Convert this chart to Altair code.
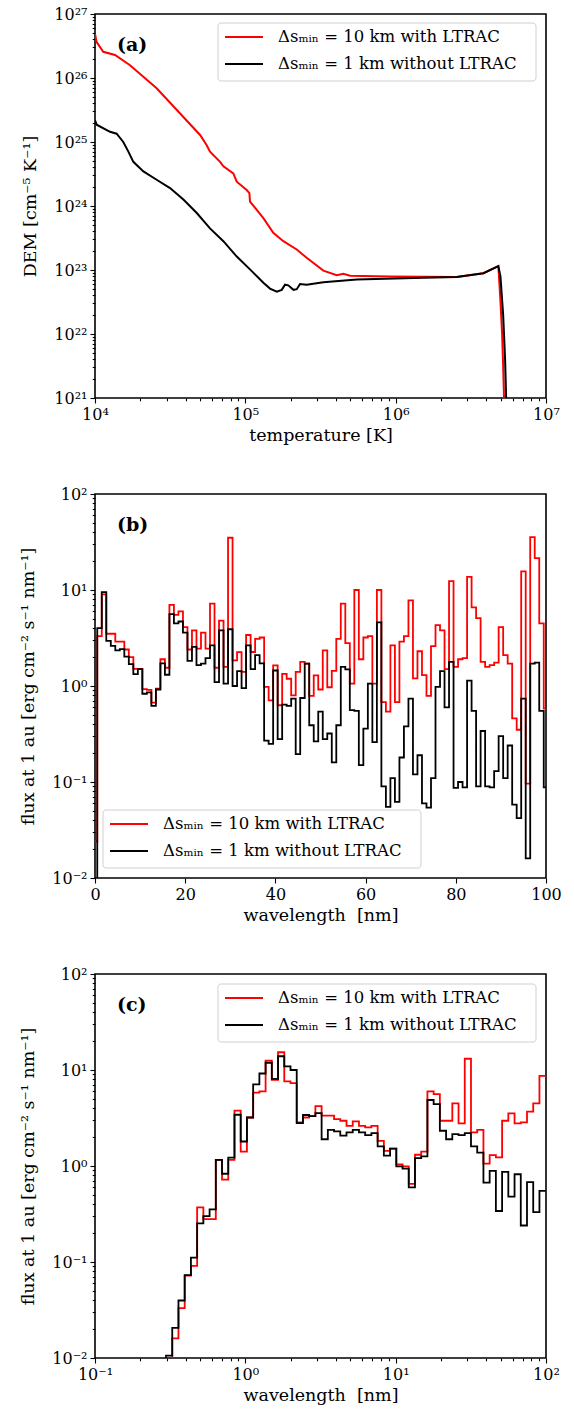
import altair as alt
import numpy as np
import pandas as pd

FONT = "DejaVu Serif"
RED = "#ff0000"
BLACK = "#000000"
series_names = ["Δsₘᵢₙ = 10 km with LTRAC", "Δsₘᵢₙ = 1 km without LTRAC"]

# ---------------- panel (a): DEM vs temperature (log10 values)
log_t_red = [4.000, 4.011, 4.055, 4.133, 4.233, 4.410, 4.699, 4.743, 4.765, 4.832, 4.854,
             4.920, 4.943, 5.009, 5.027, 5.031, 5.076, 5.120, 5.186, 5.253, 5.342, 5.408,
             5.519, 5.608, 5.652, 5.697, 5.963, 6.406, 6.584, 6.683, 6.695, 6.708, 6.715, 6.722]
log_dem_red = [26.69, 26.56, 26.41, 26.36, 26.20, 25.84, 25.11, 24.95, 24.85, 24.69, 24.62,
               24.51, 24.38, 24.25, 24.20, 24.07, 23.94, 23.81, 23.58, 23.45, 23.32, 23.19,
               22.99, 22.92, 22.94, 22.91, 22.90, 22.89, 22.95, 23.06, 22.60, 22.00, 21.50, 20.90]
log_t_black = [4.000, 4.011, 4.100, 4.144, 4.188, 4.222, 4.255, 4.322, 4.410, 4.499, 4.588,
               4.677, 4.765, 4.854, 4.943, 5.031, 5.120, 5.164, 5.209, 5.242, 5.264, 5.286,
               5.320, 5.342, 5.364, 5.408, 5.519, 5.741, 6.184, 6.406, 6.584, 6.683, 6.697,
               6.715, 6.728, 6.736]
log_dem_black = [25.34, 25.27, 25.16, 25.13, 25.00, 24.85, 24.69, 24.54, 24.41, 24.28, 24.10,
                 23.89, 23.65, 23.45, 23.21, 23.01, 22.80, 22.71, 22.66, 22.69, 22.77, 22.76,
                 22.69, 22.70, 22.78, 22.77, 22.81, 22.85, 22.88, 22.89, 22.95, 23.06, 22.90,
                 22.30, 21.60, 20.90]

# ---------------- panel (b): 1-nm bins centred on 0..100 nm
wl_b = list(range(0, 101))
flux_b_red = [0.024, 3.3, 9.0, 3.5, 3.5, 2.9, 2.9, 2.4, 2.0, 1.51,
              1.51, 0.93, 0.91, 0.67, 0.94, 1.9, 1.55, 7.0, 5.5, 6.0,
              4.1, 2.4, 3.8, 2.45, 3.6, 2.45, 7.2, 1.55, 4.8, 1.58,
              35.0, 1.85, 2.25, 1.4, 3.4, 2.26, 3.1, 3.2, 0.98, 0.71,
              1.64, 0.63, 1.34, 1.19, 0.8, 1.4, 1.78, 1.71, 0.79, 1.29,
              0.92, 2.35, 0.97, 1.44, 3.1, 7.2, 2.8, 1.06, 10.0, 1.9,
              3.2, 3.3, 1.06, 10.0, 0.68, 0.54, 2.65, 0.68, 2.9, 3.3,
              7.8, 1.2, 2.3, 1.3, 0.79, 2.6, 4.3, 3.8, 1.5, 12.4,
              1.58, 1.9, 1.95, 13.7, 6.6, 5.1, 1.78, 1.58, 1.65, 1.75,
              4.1, 2.1, 1.71, 0.46, 0.35, 15.6, 0.096, 35.6, 21.5, 4.5,
              0.58]
flux_b_black = [0.005, 4.0, 9.5, 2.95, 2.62, 2.35, 2.42, 2.02, 1.69, 1.33,
                1.5, 0.83, 0.86, 0.62, 0.92, 1.72, 1.31, 5.6, 4.5, 4.7,
                3.6, 1.83, 2.55, 1.65, 1.71, 1.95, 2.65, 1.1, 3.8, 1.06,
                3.9, 1.0, 1.43, 0.95, 2.65, 1.5, 2.1, 1.72, 0.27, 0.25,
                1.45, 0.28, 0.64, 0.62, 0.74, 0.195, 0.75, 1.71, 0.39, 0.265,
                0.54, 0.28, 0.32, 0.16, 0.39, 1.58, 1.49, 0.56, 0.55, 0.15,
                0.36, 1.06, 0.26, 4.6, 0.09, 0.055, 0.11, 0.062, 0.18, 0.38,
                0.74, 0.12, 0.19, 0.06, 0.054, 0.11, 0.98, 1.43, 0.6, 1.78,
                0.087, 0.1, 0.088, 1.14, 0.55, 0.09, 0.34, 0.09, 0.088, 0.13,
                0.3, 0.11, 0.24, 0.058, 0.042, 0.74, 0.016, 1.71, 1.75, 0.55,
                0.088]

# ---------------- panel (c): logarithmic bins
c_first_edge_log = -0.569   # log10 of the left edge of the first bin (nm)
c_bin_dex = 0.0414          # bin width in dex
flux_c_red = [0.001, 0.005, 0.016, 0.033, 0.072, 0.091, 0.37, 0.28, 0.28, 1.16,
              0.72, 1.16, 3.77, 1.41, 3.2, 5.8, 6.0, 12.5, 7.9, 15.3,
              7.6, 7.3, 2.85, 3.2, 3.3, 4.2, 3.34, 3.34, 3.08, 2.96,
              2.62, 2.91, 2.62, 2.52, 2.62, 1.83, 1.44, 1.52, 1.04, 0.99,
              0.65, 1.31, 1.41, 6.0, 5.6, 2.96, 2.96, 4.5, 2.78, 13.1,
              2.24, 2.38, 1.06, 1.3, 1.23, 2.96, 3.53, 2.78, 2.85, 3.68,
              4.5, 8.7]
flux_c_black = [0.001, 0.0106, 0.0206, 0.0397, 0.073, 0.111, 0.253, 0.30, 0.354, 1.16,
                0.83, 1.22, 3.42, 1.8, 3.2, 7.1, 9.2, 11.9, 8.1, 13.9,
                10.9, 10.0, 2.8, 3.4, 3.3, 3.56, 1.9, 2.38, 2.29, 2.07,
                2.24, 2.38, 2.24, 2.1, 2.2, 1.6, 1.28, 1.52, 0.99, 0.94,
                0.6, 1.21, 1.26, 4.87, 4.42, 2.33, 1.9, 2.15, 2.1, 2.2,
                1.6, 1.38, 0.67, 0.89, 0.34, 0.87, 0.48, 0.82, 0.24, 0.68,
                0.33, 0.55]

# ---------------- helpers
SUP = str.maketrans("0123456789-", "⁰¹²³⁴⁵⁶⁷⁸⁹⁻")


def log_ticks(lo, hi):
    majors = [10.0 ** e for e in range(lo, hi + 1)]
    minors = [m * 10.0 ** e for e in range(lo, hi) for m in range(2, 10)]
    labels = ["10" + str(e).translate(SUP) for e in range(lo, hi + 1)]
    expr = ""
    for v, lab in zip(majors, labels):
        expr += f"abs(datum.value/{v:.0e}-1)<1e-6 ? '{lab}' : "
    expr += "''"
    return sorted(majors + minors), expr


TICK_COND = {
    "condition": {
        "test": "abs(log(datum.value)/LN10 - round(log(datum.value)/LN10)) < 1e-6",
        "value": 5,
    },
    "value": 2.8,
}


def log_axis(lo, hi, title):
    vals, expr = log_ticks(lo, hi)
    return alt.Axis(values=vals, labelExpr=expr, tickSize=TICK_COND, title=title,
                    labelOverlap=False, labelFlush=False, grid=False)


def legend_layers(x0, y0):
    one = pd.DataFrame({"a": [0]})
    box = alt.Chart(one).mark_rect(fill="white", stroke="#d0d0d0", strokeWidth=1,
                                   cornerRadius=3, fillOpacity=0.85).encode(
        x=alt.value(x0), x2=alt.value(x0 + 318), y=alt.value(y0), y2=alt.value(y0 + 58))
    layers = [box]
    for i, (name, col) in enumerate(zip(series_names, [RED, BLACK])):
        yy = y0 + 14 + 27 * i
        layers.append(alt.Chart(one).mark_rule(color=col, strokeWidth=2).encode(
            x=alt.value(x0 + 7), x2=alt.value(x0 + 45), y=alt.value(yy)))
        layers.append(alt.Chart(one).mark_text(
            align="left", baseline="middle", font=FONT, fontSize=16.5, color="black").encode(
            x=alt.value(x0 + 60), y=alt.value(yy), text=alt.value(name)))
    return layers


def panel_label(txt):
    one = pd.DataFrame({"a": [0]})
    return alt.Chart(one).mark_text(align="left", baseline="middle", font=FONT,
                                    fontSize=19, fontWeight="bold", color="black").encode(
        x=alt.value(22), y=alt.value(31), text=alt.value(txt))


W, H = 451, 384
WL_TITLE = "wavelength\u00a0\u00a0[nm]"
FLUX_TITLE = "flux at 1 au [erg cm⁻² s⁻¹ nm⁻¹]"

# ---------------- panel (a)
df_a_red = pd.DataFrame({"T": 10 ** np.array(log_t_red), "DEM": 10 ** np.array(log_dem_red)})
df_a_red["i"] = range(len(df_a_red))
df_a_black = pd.DataFrame({"T": 10 ** np.array(log_t_black), "DEM": 10 ** np.array(log_dem_black)})
df_a_black["i"] = range(len(df_a_black))

xa = alt.X("T:Q", scale=alt.Scale(type="log", domain=[1e4, 1e7]),
           axis=log_axis(4, 7, "temperature [K]"))
ya = alt.Y("DEM:Q", scale=alt.Scale(type="log", domain=[1e21, 1e27]),
           axis=log_axis(21, 27, "DEM [cm⁻⁵ K⁻¹]"))

a_red = alt.Chart(df_a_red).mark_line(color=RED, strokeWidth=2, clip=True).encode(
    x=xa, y=ya, order="i:Q")
a_black = alt.Chart(df_a_black).mark_line(color=BLACK, strokeWidth=2, clip=True).encode(
    x=xa, y=ya, order="i:Q")
panel_a = alt.layer(a_red, a_black, panel_label("(a)"), *legend_layers(123, 9)).properties(
    width=W, height=H)

# ---------------- panel (b)
edges_b = list(np.array(wl_b) - 0.5) + [wl_b[-1] + 0.5]
df_b_red = pd.DataFrame({"wl": edges_b, "F": flux_b_red + [flux_b_red[-1]]})
df_b_red["i"] = range(len(df_b_red))
df_b_black = pd.DataFrame({"wl": edges_b, "F": flux_b_black + [flux_b_black[-1]]})
df_b_black["i"] = range(len(df_b_black))

xb = alt.X("wl:Q", scale=alt.Scale(domain=[0, 100], nice=False, zero=False),
           axis=alt.Axis(values=[0, 20, 40, 60, 80, 100], tickSize=5, title=WL_TITLE,
                         labelFlush=False, grid=False))
yb = alt.Y("F:Q", scale=alt.Scale(type="log", domain=[1e-2, 1e2]),
           axis=log_axis(-2, 2, FLUX_TITLE))
b_red = alt.Chart(df_b_red).mark_line(color=RED, strokeWidth=1.8, clip=True,
                                      interpolate="step-after").encode(x=xb, y=yb, order="i:Q")
b_black = alt.Chart(df_b_black).mark_line(color=BLACK, strokeWidth=1.8, clip=True,
                                          interpolate="step-after").encode(x=xb, y=yb, order="i:Q")
panel_b = alt.layer(b_red, b_black, panel_label("(b)"), *legend_layers(8, 316)).properties(
    width=W, height=H)

# ---------------- panel (c)
n_c = len(flux_c_red)
edges_c = 10 ** (c_first_edge_log + c_bin_dex * np.arange(n_c + 1))
df_c_red = pd.DataFrame({"wl": edges_c, "F": flux_c_red + [flux_c_red[-1]]})
df_c_red["i"] = range(len(df_c_red))
df_c_black = pd.DataFrame({"wl": edges_c, "F": flux_c_black + [flux_c_black[-1]]})
df_c_black["i"] = range(len(df_c_black))

xc = alt.X("wl:Q", scale=alt.Scale(type="log", domain=[0.1, 100]),
           axis=log_axis(-1, 2, WL_TITLE))
yc = alt.Y("F:Q", scale=alt.Scale(type="log", domain=[1e-2, 1e2]),
           axis=log_axis(-2, 2, FLUX_TITLE))
c_red = alt.Chart(df_c_red).mark_line(color=RED, strokeWidth=1.8, clip=True,
                                      interpolate="step-after").encode(x=xc, y=yc, order="i:Q")
c_black = alt.Chart(df_c_black).mark_line(color=BLACK, strokeWidth=1.8, clip=True,
                                          interpolate="step-after").encode(x=xc, y=yc, order="i:Q")
panel_c = alt.layer(c_red, c_black, panel_label("(c)"), *legend_layers(123, 10)).properties(
    width=W, height=H)

chart = alt.vconcat(panel_a, panel_b, panel_c, spacing=96, bounds="flush").properties(
    padding={"left": 18, "top": 5, "right": 5, "bottom": 5}
).configure_view(stroke="black", strokeWidth=1.6).configure_axis(
    domain=False, labelFont=FONT, titleFont=FONT, labelFontSize=16, titleFontSize=17.5,
    labelColor="black", titleColor="black", titleFontWeight="normal", tickColor="black",
    tickWidth=1.1, labelPadding=3
).configure_axisX(titlePadding=4).configure_axisY(titlePadding=14)

chart.save("out.html", embed_options={"renderer": "svg", "actions": False})
